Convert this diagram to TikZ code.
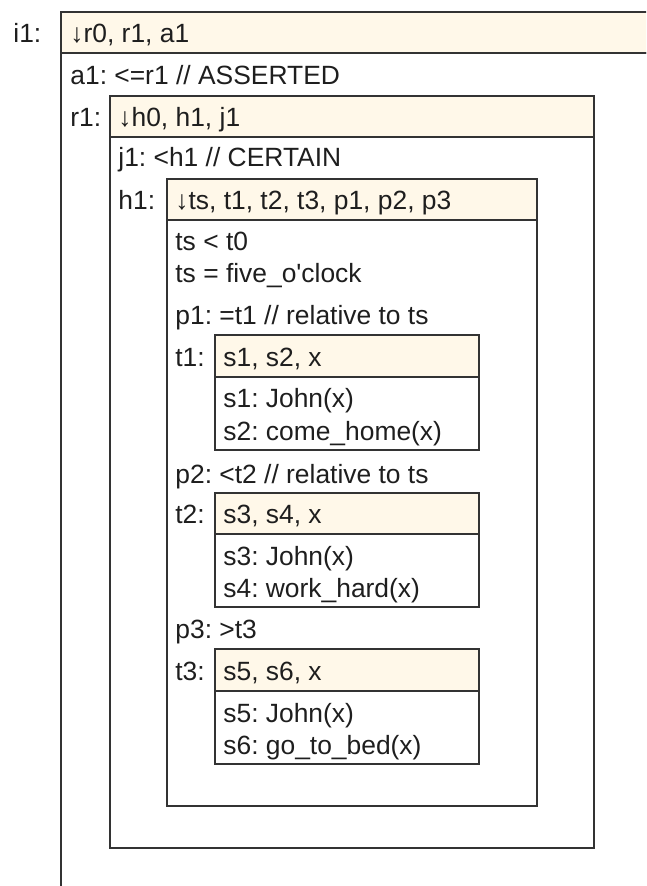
\documentclass[tikz,border=0pt]{standalone}
\usepackage{fontspec}
\setmainfont{Liberation Sans}
\usepackage{xcolor}
\usepackage{tikz}
\definecolor{hdrfill}{RGB}{255,248,233}
\definecolor{boxline}{RGB}{51,51,51}
\definecolor{txtcol}{RGB}{30,30,30}
\frenchspacing

\begin{document}
\begin{tikzpicture}[
  x=0.5pt, y=-0.5pt,
  hdr/.style={draw=boxline, fill=hdrfill, line width=0.75pt},
  frame/.style={draw=boxline, line width=0.75pt},
  txt/.style={anchor=base west, inner sep=0pt, text=txtcol, font=\fontsize{13.2}{16}\selectfont}
]
\useasboundingbox (0,0) rectangle (646,886);
\clip (0,0) rectangle (646,886);
% boxes: left/top/right/header bottom/bottom
\foreach \l/\t/\r/\h/\b in {61/12/700/53/950, 110/96/594/137/848, 167/179/537/220/806,
    215/335/479/377/450, 215/493/479/534/607, 215/649/479/691/764} {
  \draw[hdr] (\l,\t) rectangle (\r,\h);
  \draw[frame] (\l,\h) rectangle (\r,\b);
}
% i1
\node[txt] (i1lbl) at (13,43) {i1:};
\node[txt] (i1hdr) at (70,43) {↓r0, r1, a1};
\node[txt] (a1) at (70,85) {a1: <=r1 // ASSERTED};
% r1
\node[txt] (r1lbl) at (70,127) {r1:};
\node[txt] (r1hdr) at (118,127) {↓h0, h1, j1};
\node[txt] (j1) at (118,167) {j1: <h1 // CERTAIN};
% h1
\node[txt] (h1lbl) at (118,210) {h1:};
\node[txt] (h1hdr) at (175,210) {↓ts, t1, t2, t3, p1, p2, p3};
\node[txt] (tsa) at (175,251) {ts < t0};
\node[txt] (tsb) at (175,283) {ts = five\_o\textquotesingle clock};
\node[txt] (p1) at (175,325) {p1: =t1 // relative to ts};
\node[txt] (t1lbl) at (175,367) {t1:};
\node[txt] (t1hdr) at (223,367) {s1, s2, x};
\node[txt] (s1) at (223,408) {s1: John(x)};
\node[txt] (s2) at (223,440) {s2: come\_home(x)};
\node[txt] (p2) at (175,483) {p2: <t2 // relative to ts};
\node[txt] (t2lbl) at (175,523) {t2:};
\node[txt] (t2hdr) at (223,523) {s3, s4, x};
\node[txt] (s3) at (223,565) {s3: John(x)};
\node[txt] (s4) at (223,597) {s4: work\_hard(x)};
\node[txt] (p3) at (175,638) {p3: >t3};
\node[txt] (t3lbl) at (175,680) {t3:};
\node[txt] (t3hdr) at (223,680) {s5, s6, x};
\node[txt] (s5) at (223,722) {s5: John(x)};
\node[txt] (s6) at (223,754) {s6: go\_to\_bed(x)};
\end{tikzpicture}
\end{document}
